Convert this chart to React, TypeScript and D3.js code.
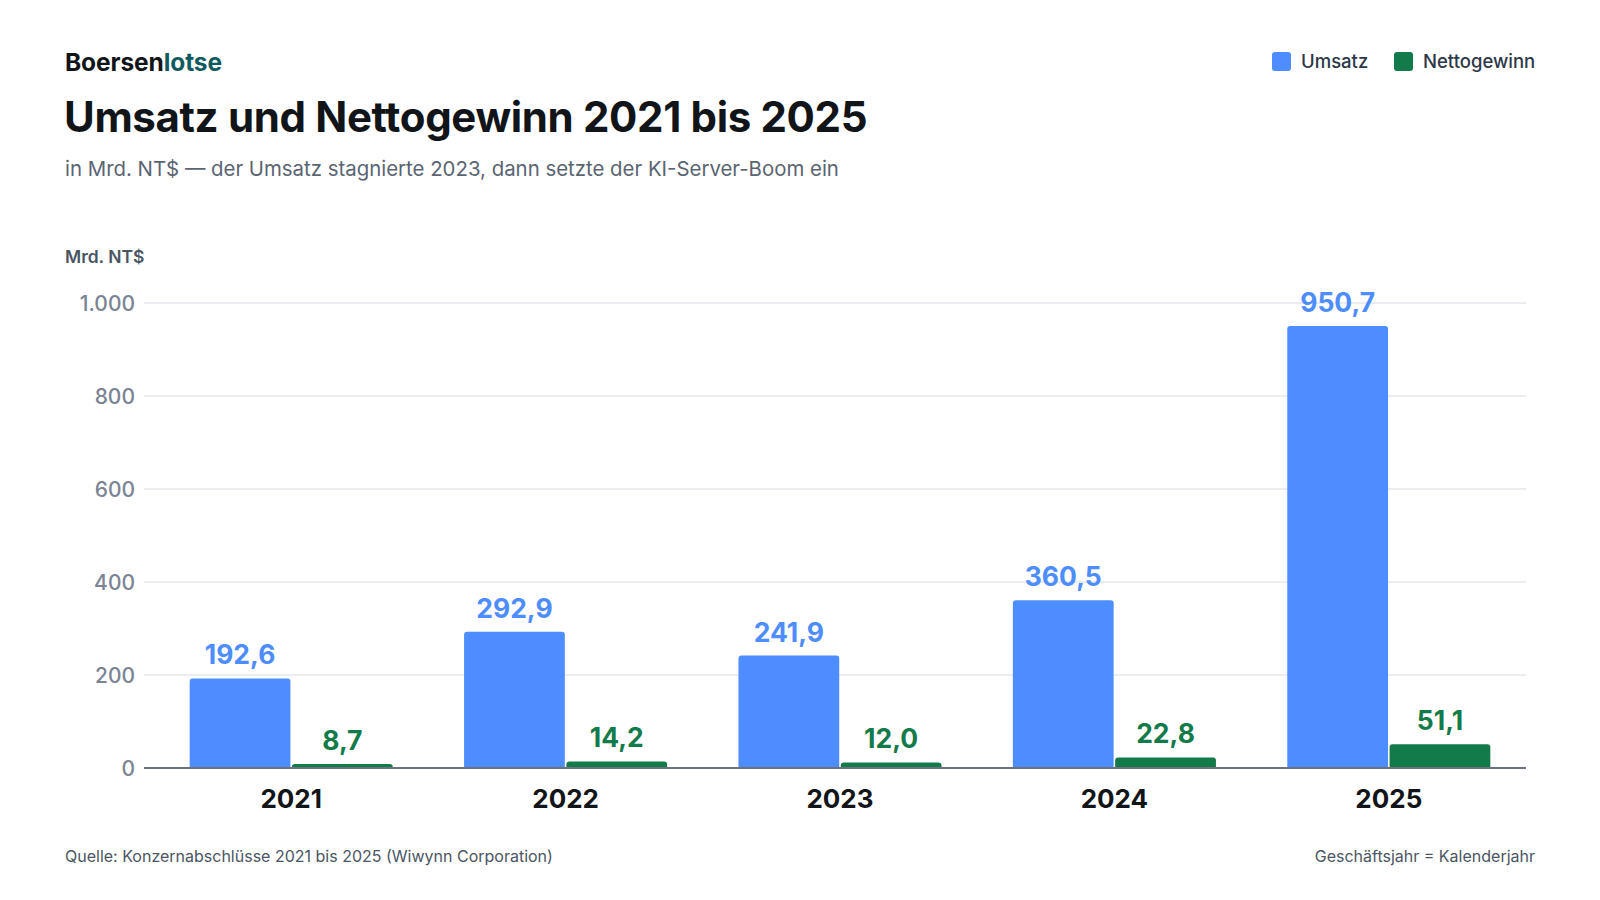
import React, { useEffect, useRef } from 'react';
import * as d3 from 'd3';

const years = ['2021', '2022', '2023', '2024', '2025'];
const umsatz = [192.6, 292.9, 241.9, 360.5, 950.7];
const nettogewinn = [8.7, 14.2, 12.0, 22.8, 51.1];
const yTicks = [0, 200, 400, 600, 800, 1000];

const seriesNames = ['Umsatz', 'Nettogewinn'];
const seriesColors = ['#4d8dff', '#137a4a'];

const font = 'Inter, "Noto Sans", sans-serif';

const App: React.FC = () => {
  const svgRef = useRef<SVGSVGElement>(null);

  useEffect(() => {
    if (!svgRef.current) return;
    const width = 1600;
    const height = 900;
    const svg = d3.select(svgRef.current).attr('width', width).attr('height', height);
    svg.selectAll('*').remove();

    const fmt = (v: number) => v.toFixed(1).replace('.', ',');
    const tickFmt = (v: number) => d3.format(',')(v).replace(',', '.');

    // header
    const logo = svg.append('text').attr('x', 65).attr('y', 71)
      .attr('font-family', font).attr('font-size', 24.5).attr('font-weight', 700)
      .attr('letter-spacing', -0.1);
    logo.append('tspan').attr('fill', '#111418').text('Boersen');
    logo.append('tspan').attr('fill', '#0f5a5e').text('lotse');

    svg.append('text').attr('x', 64).attr('y', 132)
      .attr('font-family', font).attr('font-size', 42).attr('font-weight', 700)
      .attr('letter-spacing', -0.35).attr('fill', '#111418')
      .text('Umsatz und Nettogewinn 2021 bis 2025');

    svg.append('text').attr('x', 65).attr('y', 176)
      .attr('font-family', font).attr('font-size', 20.4).attr('fill', '#5a6472')
      .text('in Mrd. NT$ — der Umsatz stagnierte 2023, dann setzte der KI-Server-Boom ein');

    // legend
    const legend = svg.append('g');
    const items = [
      { name: seriesNames[0], color: seriesColors[0], x: 1272 },
      { name: seriesNames[1], color: seriesColors[1], x: 1394 },
    ];
    items.forEach(it => {
      legend.append('rect').attr('x', it.x).attr('y', 52).attr('width', 19).attr('height', 19)
        .attr('rx', 3).attr('fill', it.color);
      legend.append('text').attr('x', it.x + 29).attr('y', 68)
        .attr('font-family', font).attr('font-size', 18.5).attr('font-weight', 500)
        .attr('fill', '#2d3748').text(it.name);
    });

    // axis unit label
    svg.append('text').attr('x', 65).attr('y', 263)
      .attr('font-family', font).attr('font-size', 17.5).attr('font-weight', 600)
      .attr('fill', '#4a5563').text('Mrd. NT$');

    const x = d3.scaleBand<string>().domain(years).range([154, 1526])
      .paddingInner(0.26).paddingOuter(0.13);
    const xSub = d3.scaleBand<number>().domain([0, 1]).range([0, x.bandwidth()]).paddingInner(0.015);
    const y = d3.scaleLinear().domain([0, 1000]).range([768, 303]);

    // gridlines
    svg.append('g').selectAll('line').data(yTicks.filter(t => t > 0)).join('line')
      .attr('x1', 144).attr('x2', 1526)
      .attr('y1', d => y(d)).attr('y2', d => y(d))
      .attr('stroke', '#e5e7eb').attr('stroke-width', 1.5);

    svg.append('g').selectAll('text').data(yTicks).join('text')
      .attr('x', 135).attr('y', d => y(d)).attr('dy', '0.36em')
      .attr('text-anchor', 'end').attr('font-family', font).attr('font-size', 21)
      .attr('font-weight', 500).attr('fill', '#7b8494')
      .text(d => tickFmt(d));

    const barPath = (x0: number, y0: number, w: number, h: number, r: number) => {
      const rr = Math.min(r, h, w / 2);
      return `M${x0},${y0 + h}V${y0 + rr}Q${x0},${y0} ${x0 + rr},${y0}H${x0 + w - rr}Q${x0 + w},${y0} ${x0 + w},${y0 + rr}V${y0 + h}Z`;
    };

    [umsatz, nettogewinn].forEach((vals, si) => {
      const g = svg.append('g');
      g.selectAll('path').data(vals).join('path')
        .attr('d', (d, i) => {
          const bx = x(years[i])! + xSub(si)!;
          const by = y(d);
          return barPath(bx, by, xSub.bandwidth(), y(0) - by, 3);
        })
        .attr('fill', seriesColors[si]);
      g.selectAll('text').data(vals).join('text')
        .attr('x', (d, i) => x(years[i])! + xSub(si)! + xSub.bandwidth() / 2)
        .attr('y', d => y(d) - 14)
        .attr('text-anchor', 'middle').attr('font-family', font)
        .attr('font-size', 26.5).attr('font-weight', 700).attr('fill', seriesColors[si])
        .text(d => fmt(d));
    });

    // baseline
    svg.append('line').attr('x1', 144).attr('x2', 1526).attr('y1', y(0)).attr('y2', y(0))
      .attr('stroke', '#6b7280').attr('stroke-width', 2);

    svg.append('g').selectAll('text').data(years).join('text')
      .attr('x', d => x(d)! + x.bandwidth() / 2).attr('y', 808)
      .attr('text-anchor', 'middle').attr('font-family', font)
      .attr('font-size', 26).attr('font-weight', 700).attr('fill', '#111418')
      .text(d => d);

    // footer
    svg.append('text').attr('x', 65).attr('y', 862)
      .attr('font-family', font).attr('font-size', 16).attr('fill', '#4b5563')
      .text('Quelle: Konzernabschlüsse 2021 bis 2025 (Wiwynn Corporation)');
    svg.append('text').attr('x', 1535).attr('y', 862).attr('text-anchor', 'end')
      .attr('font-family', font).attr('font-size', 16).attr('fill', '#4b5563')
      .text('Geschäftsjahr = Kalenderjahr');
  }, []);

  return (
    <svg ref={svgRef} style={{ position: 'absolute', left: 0, top: 0, background: '#fff' }}></svg>
  );
};

export default App;
